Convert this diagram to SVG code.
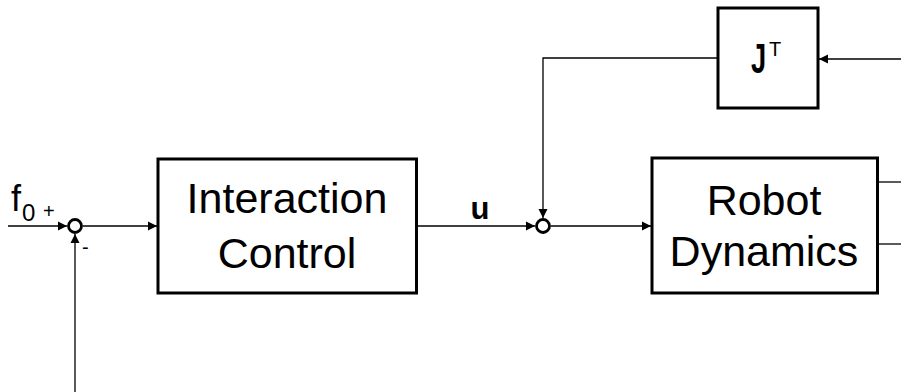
<svg xmlns="http://www.w3.org/2000/svg" width="901" height="392" viewBox="0 0 901 392">
  <style>
    .block { fill: #ffffff; stroke: #000000; stroke-width: 3; }
    .sum { fill: #ffffff; stroke: #000000; stroke-width: 2.8; }
    .wire { fill: none; stroke: #000000; stroke-width: 1.3; }
    .label { font-family: "Liberation Sans", Arial, sans-serif; fill: #000000; }
  </style>
  <defs>
    <marker id="arrow" viewBox="0 0 10 10" refX="10" refY="5" markerWidth="9" markerHeight="10" markerUnits="userSpaceOnUse" orient="auto">
      <path d="M0,0 L10,5 L0,10 Z" fill="#000000"/>
    </marker>
  </defs>

  <g id="connectors">
    <!-- reference input f0 into the left summing point -->
    <line class="wire" x1="8" y1="226" x2="67" y2="226" marker-end="url(#arrow)"/>
    <!-- measured force fed back from below -->
    <line class="wire" x1="75" y1="392" x2="75" y2="234" marker-end="url(#arrow)"/>
    <!-- error into Interaction Control -->
    <line class="wire" x1="83" y1="226" x2="157" y2="226" marker-end="url(#arrow)"/>
    <!-- control output u into second summing point -->
    <line class="wire" x1="417" y1="226" x2="535" y2="226" marker-end="url(#arrow)"/>
    <!-- sum into Robot Dynamics -->
    <line class="wire" x1="551" y1="226" x2="651" y2="226" marker-end="url(#arrow)"/>
    <!-- J^T output down to the second summing point -->
    <polyline class="wire" points="718,58 543,58 543,218" marker-end="url(#arrow)"/>
    <!-- signal entering J^T from the right -->
    <line class="wire" x1="901" y1="59" x2="819" y2="59" marker-end="url(#arrow)"/>
    <!-- Robot Dynamics outputs -->
    <line class="wire" x1="878" y1="182" x2="901" y2="182"/>
    <line class="wire" x1="878" y1="244" x2="901" y2="244"/>
  </g>

  <g id="sum1">
    <circle class="sum" cx="75" cy="226" r="6.5"/>
    <text class="label" x="11" y="211" font-size="36">f</text>
    <text class="label" x="22" y="221" font-size="24">0</text>
    <text class="label" x="43" y="218" font-size="20">+</text>
    <text class="label" x="82" y="254" font-size="20">-</text>
  </g>

  <g id="interaction-control">
    <rect class="block" x="158" y="159" width="258.5" height="134"/>
    <text class="label" x="287" y="213" font-size="43" text-anchor="middle">Interaction</text>
    <text class="label" x="287" y="268" font-size="43" text-anchor="middle">Control</text>
  </g>

  <g id="u-label">
    <text class="label" x="480" y="219" font-size="31" font-weight="bold" text-anchor="middle">u</text>
  </g>

  <g id="sum2">
    <circle class="sum" cx="543" cy="226" r="6.5"/>
  </g>

  <g id="robot-dynamics">
    <rect class="block" x="652" y="158" width="225.5" height="135"/>
    <text class="label" x="764" y="215" font-size="43" text-anchor="middle">Robot</text>
    <text class="label" x="764" y="266" font-size="43" text-anchor="middle">Dynamics</text>
  </g>

  <g id="jacobian-transpose">
    <rect class="block" x="718" y="8" width="100" height="100"/>
    <!-- bold J, condensed horizontally -->
    <text class="label" transform="translate(751,73) scale(0.65,1)" font-size="42" font-weight="bold">J</text>
    <text class="label" x="769" y="56" font-size="20">T</text>
  </g>
</svg>
